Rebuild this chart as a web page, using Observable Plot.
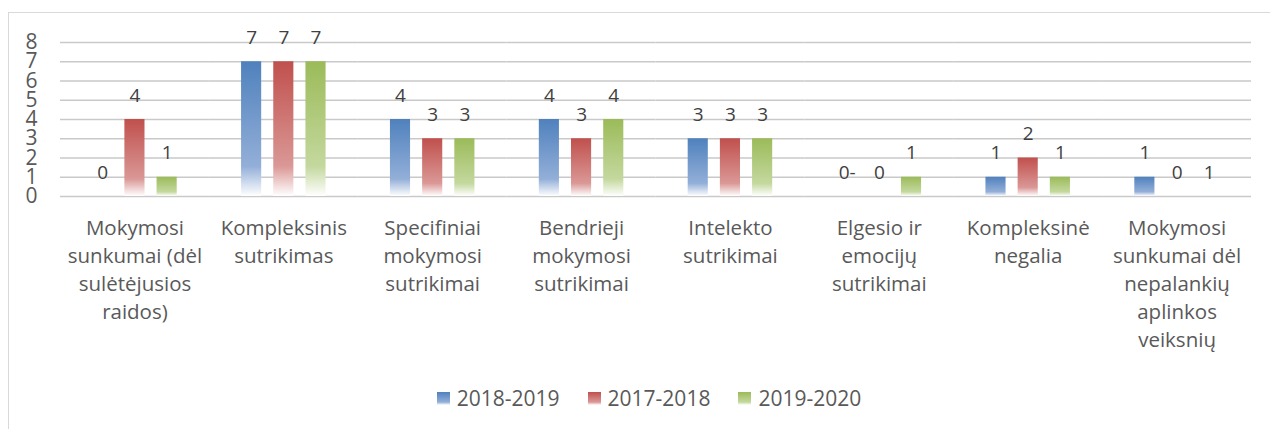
<!DOCTYPE html>
<html>
<head>
<meta charset="utf-8">
<script src="https://cdn.jsdelivr.net/npm/d3@7"></script>
<script src="https://cdn.jsdelivr.net/npm/@observablehq/plot@0.6"></script>
<style>
  html, body { margin: 0; padding: 0; background: #fff; }
  body { width: 1270px; height: 429px; overflow: hidden; position: relative; font-family: "Open Sans", sans-serif; }
  #frame { position: absolute; left: 8px; top: 12px; width: 1400px; height: 600px; border-left: 1.5px solid #d9d9d9; border-top: 1.5px solid #d9d9d9; pointer-events: none; }
  #legend { height: 52px; display: flex; justify-content: center; align-items: center; padding-left: 28px; box-sizing: border-box; width: 1270px; color: #595959; font-size: 21px; }
  .item { display: flex; align-items: center; margin: 0 14px; }
  .sw { width: 13px; height: 13px; margin-right: 7px; }
</style>
</head>
<body>
<div id="chart"></div>
<div id="legend"></div>
<div id="frame"></div>
<script>
const categories = [
  "Mokymosi sunkumai (dėl sulėtėjusios raidos)",
  "Kompleksinis sutrikimas",
  "Specifiniai mokymosi sutrikimai",
  "Bendrieji mokymosi sutrikimai",
  "Intelekto sutrikimai",
  "Elgesio ir emocijų sutrikimai",
  "Kompleksinė negalia",
  "Mokymosi sunkumai dėl nepalankių aplinkos veiksnių"
];
const tickLabels = [
  "Mokymosi\nsunkumai (dėl\nsulėtėjusios\nraidos)",
  "Kompleksinis\nsutrikimas",
  "Specifiniai\nmokymosi\nsutrikimai",
  "Bendrieji\nmokymosi\nsutrikimai",
  "Intelekto\nsutrikimai",
  "Elgesio ir\nemocijų\nsutrikimai",
  "Kompleksinė\nnegalia",
  "Mokymosi\nsunkumai dėl\nnepalankių\naplinkos\nveiksnių"
];
const series = ["2018-2019", "2017-2018", "2019-2020"];
const values2018 = [0, 7, 4, 4, 3, 0, 1, 1];
const values2017 = [4, 7, 3, 3, 3, 0, 2, 0];
const values2019 = [1, 7, 3, 4, 3, 1, 1, 0];
const labels2018 = ["0", "7", "4", "4", "3", "0-", "1", "1"];
const labels2017 = ["4", "7", "3", "3", "3", "0", "2", "0"];
const labels2019 = ["1", "7", "3", "4", "3", "1", "1", "1"];
const yTicks = [0, 1, 2, 3, 4, 5, 6, 7, 8];

const baseColors = ["#4F81BD", "#C0504D", "#9BBB59"];
const midColors = ["#93AFD8", "#DA9896", "#C4D89E"];
const gradIds = ["g2018", "g2017", "g2019"];

const allValues = [values2018, values2017, values2019];
const allLabels = [labels2018, labels2017, labels2019];
const rows = [];
categories.forEach((c, i) => {
  series.forEach((s, j) => {
    rows.push({category: c, series: s, value: allValues[j][i], label: allLabels[j][i]});
  });
});

const chart = Plot.plot({
  width: 1270,
  height: 372,
  marginLeft: 60,
  marginRight: 19,
  marginTop: 42,
  marginBottom: 176,
  style: {fontFamily: "'Open Sans', sans-serif", background: "transparent", overflow: "visible"},
  fx: {domain: categories, padding: 0, round: false, label: null},
  x: {domain: series, paddingInner: 0.375, paddingOuter: 1.0, round: false, axis: null},
  y: {domain: [0, 8], axis: null, label: null},
  color: {type: "ordinal", domain: series, range: gradIds.map(id => `url(#${id})`)},
  marks: [
    Plot.gridY(yTicks, {stroke: "#c9c9c9", strokeOpacity: 1, strokeWidth: 1.5}),
    Plot.barY(rows, {fx: "category", x: "series", y: "value", fill: "series"}),
    Plot.text(rows, {fx: "category", x: "series", y: "value", text: "label", dy: -24, fontSize: 19, fill: "#404040"}),
    Plot.axisY(yTicks, {tickSize: 0, tickPadding: 23, fontSize: 21, fill: "#595959", label: null}),
    Plot.axisFx({anchor: "bottom", tickSize: 0, tickPadding: 19, fontSize: 20.5, lineHeight: 1.36, fill: "#595959", label: null,
      tickFormat: c => tickLabels[categories.indexOf(c)]})
  ]
});

const ns = "http://www.w3.org/2000/svg";
const defs = document.createElementNS(ns, "defs");
gradIds.forEach((id, k) => {
  const g = document.createElementNS(ns, "linearGradient");
  g.setAttribute("id", id);
  g.setAttribute("x1", "0"); g.setAttribute("y1", "0");
  g.setAttribute("x2", "0"); g.setAttribute("y2", "1");
  [[0, baseColors[k]], [0.78, midColors[k]], [1, "#ffffff"]].forEach(([o, col]) => {
    const st = document.createElementNS(ns, "stop");
    st.setAttribute("offset", o);
    st.setAttribute("stop-color", col);
    g.appendChild(st);
  });
  defs.appendChild(g);
});
chart.insertBefore(defs, chart.firstChild);
document.getElementById("chart").appendChild(chart);

const legend = document.getElementById("legend");
series.forEach((s, k) => {
  const item = document.createElement("div");
  item.className = "item";
  const sw = document.createElement("div");
  sw.className = "sw";
  sw.style.background = `linear-gradient(to bottom, ${baseColors[k]} 0%, ${midColors[k]} 78%, #ffffff 100%)`;
  const t = document.createElement("span");
  t.textContent = s;
  item.appendChild(sw);
  item.appendChild(t);
  legend.appendChild(item);
});
</script>
</body>
</html>
